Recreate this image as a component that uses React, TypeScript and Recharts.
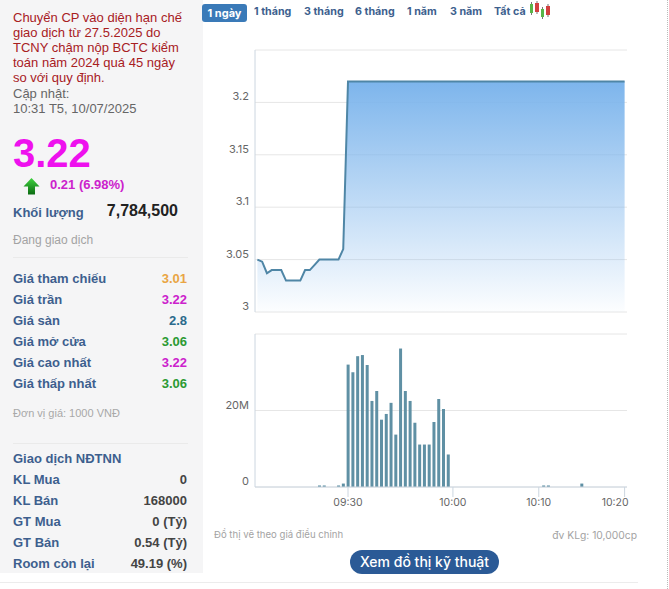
import React from "react";
import { AreaChart, Area, BarChart, Bar, XAxis, YAxis, CartesianGrid } from "recharts";

const slots = [
  "09:11", "09:12", "09:13", "09:14", "09:15", "09:16", "09:17", "09:18", "09:19", "09:20",
  "09:21", "09:22", "09:23", "09:24", "09:25", "09:26", "09:27", "09:28", "09:29",
  "09:30", "09:31", "09:32", "09:33", "09:34", "09:35", "09:36", "09:37", "09:38", "09:39", "09:40",
  "09:41", "09:42", "09:43", "09:44", "09:45", "09:46", "09:47", "09:48", "09:49", "09:50", "09:51",
  "10:00", "10:00:30", "10:01", "10:01:30", "10:02", "10:02:30", "10:03", "10:03:30", "10:04",
  "10:04:30", "10:05", "10:05:30", "10:06", "10:06:30", "10:07", "10:07:30", "10:08", "10:09",
  "10:10", "10:10:30", "10:11", "10:11:30", "10:12", "10:12:30", "10:13", "10:13:30", "10:14",
  "10:14:30", "10:15", "10:15:30", "10:16", "10:16:30", "10:17", "10:17:30", "10:18", "10:19",
  "10:20",
];
const prices = [
  3.05, 3.048, 3.037, 3.04, 3.04, 3.04, 3.03, 3.03, 3.03, 3.03,
  3.04, 3.04, 3.045, 3.05, 3.05, 3.05, 3.05, 3.05, 3.06,
  3.22, 3.22, 3.22, 3.22, 3.22, 3.22, 3.22, 3.22, 3.22, 3.22, 3.22,
  3.22, 3.22, 3.22, 3.22, 3.22, 3.22, 3.22, 3.22, 3.22, 3.22, 3.22,
  3.22, 3.22, 3.22, 3.22, 3.22, 3.22, 3.22, 3.22, 3.22,
  3.22, 3.22, 3.22, 3.22, 3.22, 3.22, 3.22, 3.22, 3.22,
  3.22, 3.22, 3.22, 3.22, 3.22, 3.22, 3.22, 3.22, 3.22,
  3.22, 3.22, 3.22, 3.22, 3.22, 3.22, 3.22, 3.22, 3.22,
  3.22,
];
const volumes = [
  0, 0, 0, 0, 0, 0, 0, 0, 0, 0,
  0, 0, 0, 0.4, 0.4, 0, 0, 0.4, 0.9,
  32, 30, 34.2, 34.5, 31.9, 22.5, 25.1, 17.6, 19.1, 22, 13.7,
  36.2, 25.1, 22.5, 16.8, 11.1, 11.1, 11.1, 17, 23, 20.4, 8.5,
  0, 0, 0, 0, 0, 0, 0, 0, 0,
  0, 0, 0, 0, 0, 0, 0, 0, 0,
  0, 0.4, 0.4, 0, 0, 0, 0, 0, 0,
  0.9, 0, 0, 0, 0, 0, 0, 0, 0,
  0,
];
const timeTicks = ["09:30", "10:00", "10:10", "10:20"];
const priceTicks = [3, 3.05, 3.1, 3.15, 3.2, 3.25];
const volumeTicks = [0, 20, 40];
const tabs = ["1 tháng", "3 tháng", "6 tháng", "1 năm", "3 năm", "Tất cả"];
const tabLefts = [254, 304, 355, 407, 450, 494];
const notice = [
  "Chuyển CP vào diện hạn chế",
  "giao dịch từ 27.5.2025 do",
  "TCNY chậm nộp BCTC kiểm",
  "toán năm 2024 quá 45 ngày",
  "so với quy định.",
];
const priceRows = [
  ["Giá tham chiếu", "3.01", "#e9a544"],
  ["Giá trần", "3.22", "#cc22cc"],
  ["Giá sàn", "2.8", "#2a6a8c"],
  ["Giá mở cửa", "3.06", "#2b9a33"],
  ["Giá cao nhất", "3.22", "#cc22cc"],
  ["Giá thấp nhất", "3.06", "#2b9a33"],
];
const foreignRows = [
  ["KL Mua", "0"],
  ["KL Bán", "168000"],
  ["GT Mua", "0 (Tỷ)"],
  ["GT Bán", "0.54 (Tỷ)"],
  ["Room còn lại", "49.19 (%)"],
];

const chartData = slots.map((slot, i) => ({ slot, price: prices[i], volume: volumes[i] }));

const ARIAL = "'Liberation Sans', Arial, sans-serif";
const INTER = "Inter, sans-serif";
const LABEL = "#3d5f8e";
const AXIS = "#ccd6e0";
const GRID = "#e6e6e6";

// one line of text, placed by its vertical centre
function T({ x, right, y, size, color, bold, font, children }: any) {
  return (
    <div
      style={{
        position: "absolute",
        left: x,
        right: right !== undefined ? 669 - right : undefined,
        top: y - 10,
        height: 20,
        lineHeight: "20px",
        fontSize: size,
        color,
        fontWeight: bold ? 700 : 400,
        fontFamily: font || ARIAL,
        whiteSpace: "nowrap",
      }}
    >
      {children}
    </div>
  );
}

function Rule({ y, x = 13, w = 175 }: any) {
  return <div style={{ position: "absolute", left: x, top: y, width: w, height: 1, background: "#eaeaea" }} />;
}

function Sidebar() {
  return (
    <>
      <div style={{ position: "absolute", left: 0, top: 0, width: 203, height: 573, background: "#f5f5f6" }} />
      {notice.map((line, i) => (
        <T key={line} x={13} y={18 + i * 15} size={13} color="#a8201f">{line}</T>
      ))}
      <T x={13} y={94} size={13} color="#666">Cập nhật:</T>
      <T x={13} y={109} size={13} color="#666">10:31 T5, 10/07/2025</T>
      <T x={13} y={153} size={40} color="#ee11ee" bold>3.22</T>
      <svg style={{ position: "absolute", left: 23, top: 178 }} width={17} height={17}>
        <defs>
          <linearGradient id="arrowFill" x1="0" y1="0" x2="0" y2="1">
            <stop offset="0" stopColor="#3fd33f" />
            <stop offset="1" stopColor="#0b6b12" />
          </linearGradient>
        </defs>
        <path d="M8.5 0 L16.5 8.5 L12 8.5 L12 16.5 L5 16.5 L5 8.5 L0.5 8.5 Z" fill="url(#arrowFill)" />
      </svg>
      <T x={50} y={185} size={13} color="#cc22cc" bold>0.21 (6.98%)</T>
      <T x={13} y={213} size={13} color={LABEL} bold>Khối lượng</T>
      <T right={178} y={211} size={16} color="#222" bold>7,784,500</T>
      <T x={13} y={240} size={12} color="#a3a3a3">Đang giao dịch</T>
      <Rule y={257} />
      {priceRows.map(([name, value, color], i) => (
        <React.Fragment key={name}>
          <T x={13} y={279 + i * 21} size={13} color={LABEL} bold>{name}</T>
          <T right={187} y={279 + i * 21} size={13} color={color} bold>{value}</T>
        </React.Fragment>
      ))}
      <T x={13} y={413} size={11} color="#a8a8a8">Đơn vị giá: 1000 VNĐ</T>
      <Rule y={443} />
      <T x={13} y={459} size={13} color={LABEL} bold>Giao dịch NĐTNN</T>
      {foreignRows.map(([name, value], i) => (
        <React.Fragment key={name}>
          <T x={13} y={480 + i * 21} size={13} color={LABEL} bold>{name}</T>
          <T right={187} y={480 + i * 21} size={13} color="#444" bold>{value}</T>
        </React.Fragment>
      ))}
    </>
  );
}

function Tabs() {
  return (
    <>
      <div
        style={{
          position: "absolute",
          left: 202,
          top: 4,
          width: 45,
          height: 18,
          lineHeight: "18px",
          borderRadius: 3,
          background: "#3a7ab8",
          color: "#fff",
          fontSize: 11,
          fontWeight: 700,
          fontFamily: INTER,
          textAlign: "center",
        }}
      >
        1 ngày
      </div>
      {tabs.map((tab, i) => (
        <T key={tab} x={tabLefts[i]} y={12} size={10.7} color={LABEL} bold font={INTER}>{tab}</T>
      ))}
      <svg style={{ position: "absolute", left: 528, top: 0 }} width={24} height={21}>
        <path d="M3.5 2V15M9 1V14M14.5 7V19M20 4V17" stroke="#777" strokeWidth={1} />
        <rect x={2} y={4} width={3} height={9} fill="#58b548" />
        <rect x={7} y={3} width={4} height={9} fill="#d2403f" />
        <rect x={13} y={9} width={3} height={8} fill="#58b548" />
        <rect x={18} y={6} width={4} height={9} fill="#d2403f" />
      </svg>
    </>
  );
}

function PriceTick({ x, y, payload }: any) {
  if (payload.value === 3.25) return null;
  return (
    <text x={x} y={y - 6} dy={4} textAnchor="end" fontSize={11} fill="#666" fontFamily={INTER}>
      {payload.value}
    </text>
  );
}

function VolumeTick({ x, y, payload }: any) {
  if (payload.value === 40) return null;
  return (
    <text x={x} y={y - 6} dy={4} textAnchor="end" fontSize={11} fill="#666" fontFamily={INTER}>
      {payload.value === 0 ? "0" : `${payload.value}M`}
    </text>
  );
}

function TimeTick({ x, y, payload }: any) {
  const last = payload.value === "10:20";
  return (
    <text x={last ? x + 4 : x} y={y} dy={7} textAnchor={last ? "end" : "middle"} fontSize={10.5} fill="#666" fontFamily={INTER}>
      {payload.value}
    </text>
  );
}

function PriceChart() {
  return (
    <div style={{ position: "absolute", left: 205, top: 40 }}>
      <AreaChart width={425} height={280} data={chartData} margin={{ top: 10, right: 3, bottom: 8, left: 0 }}>
        <defs>
          <linearGradient id="priceFill" x1="0" y1="0" x2="0" y2="1">
            <stop offset="0" stopColor="#7db5ec" />
            <stop offset="1" stopColor="#7db5ec" stopOpacity={0.02} />
          </linearGradient>
        </defs>
        <CartesianGrid vertical={false} stroke={GRID} />
        <XAxis dataKey="slot" scale="band" hide />
        <YAxis
          type="number"
          domain={[3, 3.25]}
          ticks={priceTicks}
          interval={0}
          width={50}
          tick={<PriceTick />}
          tickLine={false}
          axisLine={{ stroke: AXIS }}
          tickMargin={0}
          tickSize={6}
        />
        <Area
          type="linear"
          dataKey="price"
          stroke="#4f86a6"
          strokeWidth={2}
          fill="url(#priceFill)"
          fillOpacity={1}
          dot={false}
          activeDot={false}
          isAnimationActive={false}
        />
      </AreaChart>
    </div>
  );
}

function VolumeChart() {
  return (
    <div style={{ position: "absolute", left: 205, top: 324 }}>
      <BarChart width={425} height={193} data={chartData} margin={{ top: 10, right: 3, bottom: 0, left: 0 }}>
        <CartesianGrid vertical={false} stroke={GRID} />
        <XAxis
          dataKey="slot"
          ticks={timeTicks}
          interval={0}
          height={30}
          tick={<TimeTick />}
          tickSize={10}
          tickLine={{ stroke: AXIS }}
          axisLine={{ stroke: AXIS }}
        />
        <YAxis
          type="number"
          domain={[0, 40]}
          ticks={volumeTicks}
          interval={0}
          width={50}
          tick={<VolumeTick />}
          tickLine={false}
          axisLine={{ stroke: AXIS }}
          tickSize={6}
          tickMargin={0}
        />
        <Bar dataKey="volume" fill="#5f90a4" barSize={3} isAnimationActive={false} />
      </BarChart>
    </div>
  );
}

export default function App() {
  return (
    <div style={{ position: "absolute", left: 0, top: 0, width: 669, height: 589, overflow: "hidden", background: "#fff" }}>
      <Sidebar />
      <Tabs />
      <PriceChart />
      <VolumeChart />
      <T x={214} y={535} size={9.6} color="#a3a3a3" font={INTER}>Đồ thị vẽ theo giá điều chỉnh</T>
      <T right={637} y={535} size={10.3} color="#a3a3a3" font={INTER}>đv KLg: 10,000cp</T>
      <div
        style={{
          position: "absolute",
          left: 350,
          top: 550,
          width: 149,
          height: 24,
          lineHeight: "24px",
          borderRadius: 12,
          background: "#2b5a96",
          color: "#fff",
          fontSize: 14,
          fontWeight: 500,
          fontFamily: INTER,
          textAlign: "center",
        }}
      >
        Xem đồ thị kỹ thuật
      </div>
      <div style={{ position: "absolute", left: 0, top: 582, width: 638, height: 1, background: "#ececec" }} />
      <div style={{ position: "absolute", left: 667, top: 0, height: 589, borderLeft: "1px dotted #bbb" }} />
    </div>
  );
}
